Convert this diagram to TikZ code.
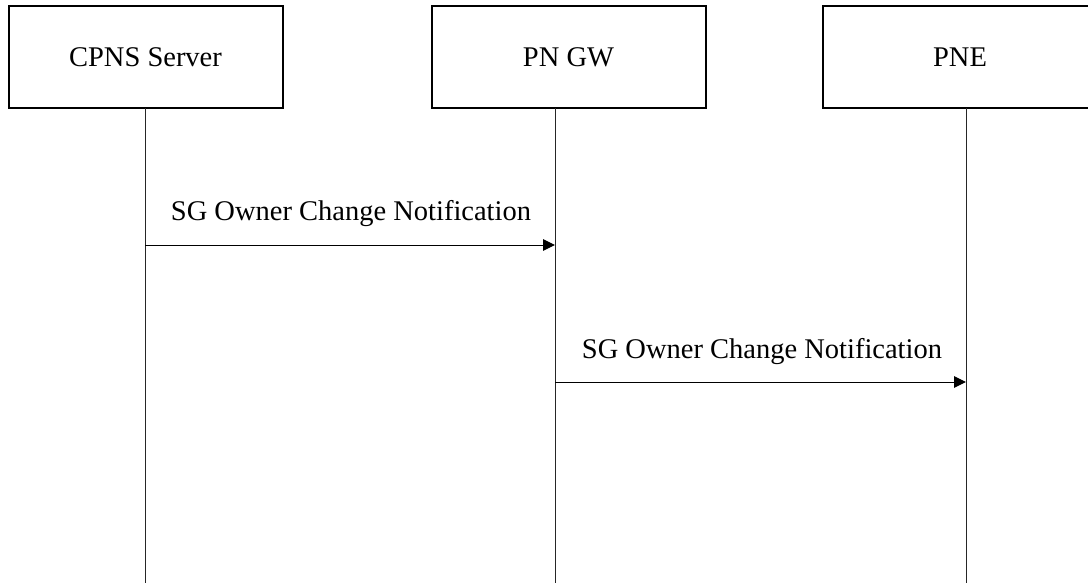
\documentclass[tikz,border=0pt]{standalone}
\usepackage{fontspec}
\setmainfont{Liberation Serif}
\usetikzlibrary{arrows.meta}
\begin{document}
\begin{tikzpicture}[x=1pt,y=-1pt,
  actor/.style={draw, line width=2pt, minimum width=274pt, minimum height=102pt, inner sep=0pt, font=\fontsize{28.5}{34}\selectfont},
  life/.style={line width=1pt, black!85},
  msg/.style={line width=1pt, -{Triangle[length=12pt,width=11.5pt]}},
  lbl/.style={font=\fontsize{28.5}{34}\selectfont, inner sep=0pt, anchor=base}]
\useasboundingbox (0,0) rectangle (1088,583);
\clip (0,0) rectangle (1088,583);
\node[actor] (cpns) at (145.5,57) {CPNS Server};
\node[actor] (gw) at (568.5,57) {PN GW};
\node[actor] (pne) at (960,57) {PNE};
\coordinate (l1t) at (145,108); \coordinate (l1b) at (145,583);
\coordinate (l2t) at (555,108); \coordinate (l2b) at (555,583);
\coordinate (l3t) at (966,108); \coordinate (l3b) at (966,583);
\draw[life] (l1t) -- (l1b);
\draw[life] (l2t) -- (l2b);
\draw[life] (l3t) -- (l3b);
\coordinate (m1s) at (145,245); \coordinate (m1e) at (555,245);
\coordinate (m2s) at (555,382); \coordinate (m2e) at (966,382);
\draw[msg] (m1s) -- (m1e);
\draw[msg] (m2s) -- (m2e);
\node[lbl] (t1) at (351,221) {SG Owner Change Notification};
\node[lbl] (t2) at (762,358) {SG Owner Change Notification};
\end{tikzpicture}
\end{document}
